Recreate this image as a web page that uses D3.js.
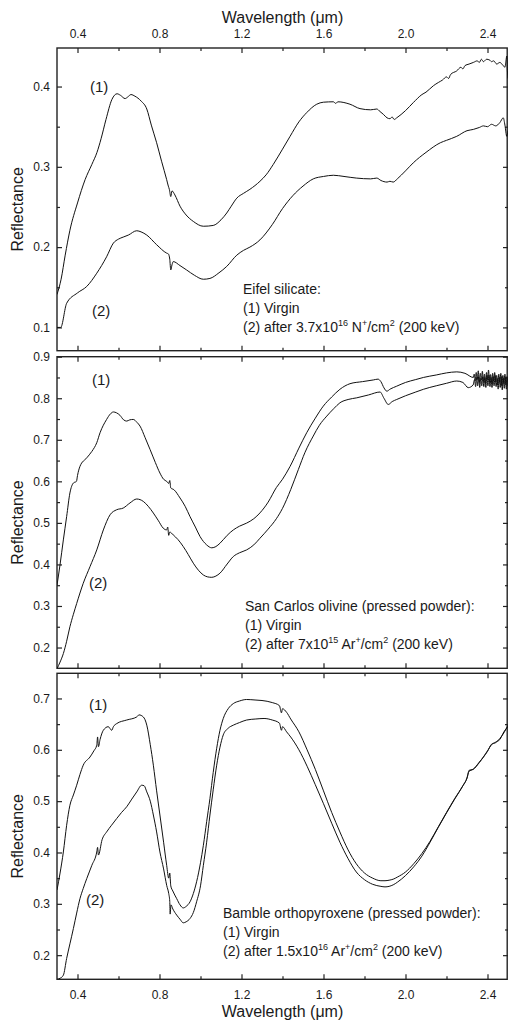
<!DOCTYPE html>
<html>
<head>
<meta charset="utf-8">
<title>Reflectance spectra</title>
<script src="https://d3js.org/d3.v7.min.js"></script>
<style>
  body { margin: 0; background: #fff; }
  svg text { font-family: Arial, "Liberation Sans", sans-serif; fill: #1a1a1a; }
</style>
</head>
<body>
<div id="chart"></div>
<script>
// ---- data: [wavelength (um), reflectance] ----
var xMajor = [0.4, 0.8, 1.2, 1.6, 2.0, 2.4];
var xMinor = [0.6, 1.0, 1.4, 1.8, 2.2];

var eifelMajor = [0.1, 0.2, 0.3, 0.4];
var eifelMinor = [0.15, 0.25, 0.35];
var olivineMajor = [0.2, 0.3, 0.4, 0.5, 0.6, 0.7, 0.8, 0.9];
var olivineMinor = [0.25, 0.35, 0.45, 0.55, 0.65, 0.75, 0.85];
var bambleMajor = [0.2, 0.3, 0.4, 0.5, 0.6, 0.7];
var bambleMinor = [0.25, 0.35, 0.45, 0.55, 0.65];

var eifelVirgin = [[0.30,0.141],[0.32,0.16],[0.34,0.19],[0.363,0.221],[0.40,0.255],[0.437,0.284],[0.47,0.303],
  [0.495,0.318],[0.515,0.335],[0.539,0.359],[0.568,0.384],[0.593,0.391],[0.61,0.389],[0.632,0.385],[0.645,0.387],
  [0.661,0.390],[0.68,0.388],[0.71,0.382],[0.738,0.372],[0.76,0.352],[0.786,0.330],[0.81,0.307],[0.835,0.284],
  [0.843,0.276],[0.848,0.272],[0.855,0.263],[0.861,0.270],[0.875,0.265],[0.9,0.251],[0.93,0.240],[0.965,0.232],
  [1.014,0.226],[1.062,0.227],[1.10,0.234],[1.128,0.2425],[1.15,0.251],[1.177,0.261],[1.21,0.267],[1.241,0.272],
  [1.29,0.282],[1.32,0.29],[1.355,0.303],[1.40,0.322],[1.437,0.338],[1.48,0.356],[1.518,0.3675],[1.567,0.378],
  [1.60,0.3805],[1.648,0.381],[1.66,0.379],[1.67,0.381],[1.729,0.378],[1.778,0.3725],[1.83,0.371],[1.86,0.372],
  [1.875,0.369],[1.892,0.3654],[1.91,0.361],[1.924,0.360],[1.935,0.362],[1.945,0.359],[1.957,0.361],[2.0,0.37],
  [2.038,0.38],[2.08,0.39],[2.1,0.393],[2.136,0.401],[2.16,0.405],[2.18,0.408],[2.2,0.412],[2.21,0.410],
  [2.22,0.415],[2.25,0.4195],[2.27,0.424],[2.28,0.422],[2.29,0.426],[2.31,0.428],[2.331,0.43],[2.35,0.432],
  [2.36,0.430],[2.37,0.434],[2.38,0.431],[2.396,0.434],[2.41,0.433],[2.42,0.431],[2.43,0.432],[2.445,0.428],
  [2.46,0.430],[2.477,0.426],[2.485,0.424],[2.49,0.432],[2.494,0.438],[2.497,0.42],[2.5,0.41]];

var eifelIrradiated = [[0.30,0.1],[0.318,0.1],[0.347,0.13],[0.40,0.143],[0.445,0.151],[0.494,0.1675],[0.542,0.188],
  [0.575,0.205],[0.60,0.210],[0.623,0.2125],[0.648,0.215],[0.689,0.2204],[0.71,0.219],[0.738,0.215],[0.786,0.203],
  [0.835,0.1925],[0.843,0.1916],[0.85,0.185],[0.855,0.1716],[0.861,0.178],[0.867,0.182],[0.90,0.177],[0.932,0.1716],
  [0.97,0.165],[1.014,0.160],[1.046,0.161],[1.09,0.168],[1.128,0.176],[1.177,0.19],[1.21,0.196],[1.241,0.2],
  [1.29,0.209],[1.35,0.228],[1.40,0.248],[1.45,0.264],[1.50,0.276],[1.55,0.285],[1.6,0.288],[1.648,0.2895],
  [1.70,0.288],[1.76,0.286],[1.83,0.285],[1.86,0.286],[1.88,0.283],[1.91,0.281],[1.924,0.282],[1.94,0.281],
  [1.96,0.285],[2.0,0.295],[2.038,0.305],[2.1,0.318],[2.17,0.33],[2.2,0.333],[2.25,0.338],[2.3,0.345],
  [2.331,0.3466],[2.36,0.349],[2.38,0.351],[2.40,0.350],[2.42,0.353],[2.44,0.351],[2.46,0.355],[2.477,0.361],
  [2.485,0.352],[2.494,0.338],[2.5,0.345]];

var olivineVirgin = [[0.30,0.35],[0.315,0.40],[0.331,0.459],[0.347,0.515],[0.363,0.572],[0.38,0.596],[0.395,0.60],
  [0.40,0.614],[0.412,0.636],[0.445,0.6565],[0.47,0.672],[0.494,0.693],[0.51,0.717],[0.542,0.749],[0.56,0.762],
  [0.575,0.767],[0.59,0.765],[0.607,0.759],[0.625,0.748],[0.64,0.745],[0.655,0.748],[0.672,0.749],[0.69,0.742],
  [0.705,0.733],[0.73,0.705],[0.754,0.6766],[0.78,0.645],[0.802,0.62],[0.82,0.605],[0.835,0.60],[0.845,0.595],
  [0.85,0.602],[0.855,0.584],[0.87,0.58],[0.9,0.56],[0.925,0.54],[0.949,0.515],[0.975,0.49],[0.998,0.467],
  [1.03,0.447],[1.055,0.44],[1.075,0.443],[1.095,0.451],[1.13,0.47],[1.16,0.483],[1.19,0.492],[1.225,0.4995],
  [1.26,0.51],[1.29,0.524],[1.33,0.55],[1.37,0.585],[1.40,0.605],[1.437,0.636],[1.48,0.68],[1.518,0.717],
  [1.56,0.752],[1.599,0.781],[1.64,0.803],[1.68,0.8215],[1.729,0.835],[1.79,0.840],[1.843,0.844],[1.866,0.846],
  [1.88,0.84],[1.895,0.825],[1.909,0.817],[1.925,0.822],[1.957,0.829],[2.0,0.838],[2.05,0.845],[2.087,0.85],
  [2.15,0.856],[2.20,0.861],[2.25,0.8635],[2.29,0.86],[2.331,0.85],[2.335,0.858],[2.34,0.842],[2.345,0.862],
  [2.35,0.845],[2.355,0.866],[2.36,0.838],[2.365,0.86],[2.37,0.844],[2.375,0.865],[2.38,0.84],[2.385,0.858],
  [2.39,0.836],[2.395,0.862],[2.40,0.845],[2.405,0.868],[2.41,0.84],[2.415,0.857],[2.42,0.838],[2.425,0.86],
  [2.43,0.842],[2.435,0.862],[2.44,0.84],[2.445,0.855],[2.45,0.832],[2.455,0.858],[2.46,0.838],[2.465,0.86],
  [2.47,0.83],[2.475,0.855],[2.48,0.835],[2.485,0.858],[2.49,0.832],[2.495,0.852],[2.5,0.84]];

var olivineIrradiated = [[0.30,0.149],[0.315,0.165],[0.331,0.1855],[0.347,0.215],[0.363,0.25],[0.38,0.28],
  [0.396,0.306],[0.428,0.3546],[0.461,0.3947],[0.494,0.435],[0.526,0.483],[0.559,0.5196],[0.591,0.5316],
  [0.623,0.5357],[0.656,0.548],[0.689,0.5575],[0.705,0.556],[0.721,0.5517],[0.745,0.54],[0.77,0.5237],
  [0.795,0.505],[0.818,0.4874],[0.835,0.483],[0.84,0.49],[0.845,0.47],[0.85,0.478],[0.867,0.471],[0.89,0.46],
  [0.916,0.443],[0.94,0.424],[0.965,0.403],[0.99,0.386],[1.014,0.3746],[1.035,0.37],[1.055,0.369],[1.075,0.372],
  [1.095,0.379],[1.13,0.401],[1.16,0.419],[1.19,0.428],[1.225,0.435],[1.26,0.447],[1.29,0.463],[1.33,0.485],
  [1.37,0.51],[1.40,0.535],[1.44,0.58],[1.477,0.628],[1.51,0.67],[1.55,0.709],[1.58,0.735],[1.616,0.757],
  [1.65,0.775],[1.68,0.789],[1.72,0.797],[1.762,0.801],[1.82,0.808],[1.876,0.815],[1.895,0.80],[1.916,0.785],
  [1.935,0.792],[1.957,0.797],[2.0,0.806],[2.05,0.815],[2.087,0.8215],[2.15,0.83],[2.2,0.836],[2.25,0.8415],
  [2.28,0.838],[2.306,0.8255],[2.33,0.832],[2.337,0.845],[2.342,0.828],[2.347,0.85],[2.352,0.83],[2.357,0.852],
  [2.362,0.826],[2.367,0.848],[2.372,0.83],[2.377,0.852],[2.382,0.828],[2.387,0.85],[2.392,0.826],[2.397,0.855],
  [2.402,0.83],[2.407,0.856],[2.412,0.828],[2.417,0.85],[2.422,0.826],[2.427,0.852],[2.432,0.83],[2.437,0.855],
  [2.442,0.828],[2.447,0.848],[2.452,0.822],[2.457,0.85],[2.462,0.826],[2.467,0.852],[2.472,0.82],[2.477,0.848],
  [2.482,0.824],[2.487,0.85],[2.492,0.822],[2.497,0.845],[2.5,0.83]];

var bambleVirgin = [[0.30,0.327],[0.315,0.36],[0.331,0.401],[0.347,0.453],[0.363,0.492],[0.38,0.512],[0.396,0.531],
  [0.412,0.552],[0.428,0.57],[0.461,0.586],[0.48,0.598],[0.494,0.609],[0.498,0.625],[0.502,0.606],[0.51,0.62],
  [0.526,0.638],[0.55,0.645],[0.567,0.638],[0.575,0.645],[0.591,0.651],[0.64,0.658],[0.689,0.664],[0.70,0.668],
  [0.721,0.664],[0.738,0.648],[0.755,0.61],[0.77,0.57],[0.786,0.52],[0.802,0.473],[0.82,0.42],[0.835,0.375],
  [0.845,0.35],[0.85,0.36],[0.855,0.335],[0.865,0.325],[0.884,0.31],[0.90,0.298],[0.916,0.292],[0.93,0.295],
  [0.949,0.304],[0.965,0.32],[0.981,0.343],[1.0,0.38],[1.014,0.414],[1.03,0.46],[1.046,0.505],[1.062,0.556],
  [1.079,0.603],[1.095,0.638],[1.111,0.661],[1.135,0.68],[1.16,0.69],[1.19,0.695],[1.225,0.698],[1.266,0.697],
  [1.30,0.696],[1.35,0.692],[1.385,0.686],[1.395,0.672],[1.40,0.68],[1.42,0.673],[1.44,0.66],[1.48,0.635],
  [1.52,0.6],[1.56,0.562],[1.60,0.52],[1.64,0.478],[1.68,0.44],[1.72,0.405],[1.76,0.378],[1.80,0.36],
  [1.84,0.35],[1.88,0.345],[1.90,0.345],[1.92,0.346],[1.94,0.348],[1.96,0.352],[2.0,0.362],[2.04,0.378],
  [2.08,0.398],[2.12,0.422],[2.16,0.45],[2.2,0.478],[2.24,0.505],[2.28,0.53],[2.30,0.545],[2.31,0.56],
  [2.33,0.562],[2.36,0.575],[2.40,0.598],[2.42,0.61],[2.44,0.615],[2.46,0.62],[2.48,0.635],[2.5,0.645]];

var bambleIrradiated = [[0.30,0.153],[0.315,0.155],[0.331,0.161],[0.347,0.1935],[0.363,0.222],[0.38,0.252],
  [0.396,0.282],[0.412,0.31],[0.428,0.33],[0.445,0.349],[0.47,0.375],[0.494,0.401],[0.498,0.41],[0.502,0.395],
  [0.52,0.425],[0.542,0.44],[0.566,0.453],[0.591,0.466],[0.615,0.478],[0.64,0.489],[0.665,0.504],[0.689,0.518],
  [0.713,0.531],[0.725,0.53],[0.738,0.518],[0.755,0.5],[0.77,0.473],[0.786,0.44],[0.802,0.401],[0.82,0.368],
  [0.835,0.336],[0.845,0.32],[0.85,0.305],[0.852,0.28],[0.856,0.298],[0.865,0.29],[0.884,0.278],[0.90,0.27],
  [0.916,0.263],[0.93,0.265],[0.949,0.2715],[0.965,0.283],[0.981,0.304],[1.0,0.335],[1.014,0.375],[1.03,0.42],
  [1.046,0.473],[1.062,0.522],[1.079,0.57],[1.095,0.605],[1.111,0.629],[1.135,0.642],[1.16,0.648],[1.19,0.653],
  [1.225,0.658],[1.27,0.66],[1.31,0.661],[1.35,0.658],[1.385,0.652],[1.395,0.638],[1.40,0.645],[1.42,0.635],
  [1.44,0.625],[1.48,0.6],[1.52,0.568],[1.56,0.532],[1.60,0.495],[1.64,0.457],[1.68,0.42],[1.72,0.388],
  [1.76,0.362],[1.80,0.347],[1.84,0.338],[1.88,0.334],[1.90,0.333],[1.92,0.334],[1.94,0.337],[1.96,0.342],
  [2.0,0.355],[2.04,0.372],[2.08,0.393],[2.12,0.42],[2.16,0.449],[2.2,0.477],[2.24,0.504],[2.28,0.53],
  [2.30,0.545],[2.31,0.558],[2.33,0.562],[2.36,0.576],[2.40,0.597],[2.42,0.611],[2.44,0.614],[2.46,0.622],
  [2.48,0.633],[2.5,0.648]];

// annotation text, segments flagged true are superscripts
var eifelNote = [[["Eifel silicate:", false]], [["(1) Virgin", false]],
  [["(2) after 3.7x10", false], ["16", true], [" N", false], ["+", true], ["/cm", false], ["2", true], [" (200 keV)", false]]];
var olivineNote = [[["San Carlos olivine (pressed powder):", false]], [["(1) Virgin", false]],
  [["(2) after 7x10", false], ["15", true], [" Ar", false], ["+", true], ["/cm", false], ["2", true], [" (200 keV)", false]]];
var bambleNote = [[["Bamble orthopyroxene (pressed powder):", false]], [["(1) Virgin", false]],
  [["(2) after 1.5x10", false], ["16", true], [" Ar", false], ["+", true], ["/cm", false], ["2", true], [" (200 keV)", false]]];

// ---- layout ----
var width = 508, height = 1021;
var left = 57, right = 508;

var panels = [
  {top: 48, bottom: 350.7, domain: [0.071, 0.448], major: eifelMajor, minor: eifelMinor,
   series: [eifelVirgin, eifelIrradiated], tags: [[90, 92], [92, 316]],
   note: eifelNote, noteX: 243, noteY: 294},
  {top: 356.7, bottom: 668.3, domain: [0.15, 0.9], major: olivineMajor, minor: olivineMinor,
   series: [olivineVirgin, olivineIrradiated], tags: [[92, 385], [89, 588]],
   note: olivineNote, noteX: 245, noteY: 611},
  {top: 673.3, bottom: 979.3, domain: [0.153, 0.749], major: bambleMajor, minor: bambleMinor,
   series: [bambleVirgin, bambleIrradiated], tags: [[89, 710], [86, 905]],
   note: bambleNote, noteX: 223, noteY: 918}
];

var svg = d3.select("#chart").append("svg")
    .attr("width", width)
    .attr("height", height);

var x = d3.scaleLinear().domain([0.3, 2.5]).range([left, right]);

function styleAxis(g) {
  g.select(".domain").remove();
  g.selectAll(".tick line").attr("stroke", "#222").attr("stroke-width", 1.2);
  g.selectAll(".tick text").attr("font-size", "12px").attr("fill", "#1a1a1a");
}

panels.forEach(function(p, i) {
  var y = d3.scaleLinear().domain(p.domain).range([p.bottom, p.top]);

  var clipId = "clip" + i;
  svg.append("clipPath").attr("id", clipId)
    .append("rect")
    .attr("x", left).attr("y", p.top)
    .attr("width", right - left).attr("height", p.bottom - p.top);

  // x ticks, top and bottom, pointing inward
  var showTop = (i === 0), showBottom = (i === panels.length - 1);
  svg.append("g").attr("transform", "translate(0," + p.top + ")")
    .call(d3.axisTop(x).tickValues(xMajor).tickSize(-5).tickPadding(10)
      .tickFormat(showTop ? d3.format(".1f") : ""))
    .call(styleAxis);
  svg.append("g").attr("transform", "translate(0," + p.top + ")")
    .call(d3.axisTop(x).tickValues(xMinor).tickSize(-3).tickFormat(""))
    .call(styleAxis);
  svg.append("g").attr("transform", "translate(0," + p.bottom + ")")
    .call(d3.axisBottom(x).tickValues(xMajor).tickSize(-5).tickPadding(11)
      .tickFormat(showBottom ? d3.format(".1f") : ""))
    .call(styleAxis);
  svg.append("g").attr("transform", "translate(0," + p.bottom + ")")
    .call(d3.axisBottom(x).tickValues(xMinor).tickSize(-3).tickFormat(""))
    .call(styleAxis);

  // y ticks, left with labels, right mirrored
  svg.append("g").attr("transform", "translate(" + left + ",0)")
    .call(d3.axisLeft(y).tickValues(p.major).tickSize(-5).tickPadding(7).tickFormat(d3.format(".1f")))
    .call(styleAxis);
  svg.append("g").attr("transform", "translate(" + left + ",0)")
    .call(d3.axisLeft(y).tickValues(p.minor).tickSize(-3).tickFormat(""))
    .call(styleAxis);
  svg.append("g").attr("transform", "translate(" + right + ",0)")
    .call(d3.axisRight(y).tickValues(p.major).tickSize(-5).tickFormat(""))
    .call(styleAxis);
  svg.append("g").attr("transform", "translate(" + right + ",0)")
    .call(d3.axisRight(y).tickValues(p.minor).tickSize(-3).tickFormat(""))
    .call(styleAxis);

  // frame
  svg.append("rect")
    .attr("x", left).attr("y", p.top)
    .attr("width", right - left - 0.8).attr("height", p.bottom - p.top)
    .attr("fill", "none").attr("stroke", "#222").attr("stroke-width", 1.4);

  // spectra
  var line = d3.line()
    .x(function(d) { return x(d[0]); })
    .y(function(d) { return y(d[1]); })
    .curve(d3.curveMonotoneX);

  svg.append("g").attr("clip-path", "url(#" + clipId + ")")
    .selectAll("path")
    .data(p.series)
    .enter().append("path")
    .attr("d", line)
    .attr("fill", "none")
    .attr("stroke", "#111")
    .attr("stroke-width", 1)
    .attr("stroke-linejoin", "round");

  // (1) / (2) tags
  p.tags.forEach(function(t, k) {
    svg.append("text").attr("x", t[0]).attr("y", t[1])
      .attr("font-size", "15px").text("(" + (k + 1) + ")");
  });

  // sample annotation
  p.note.forEach(function(parts, k) {
    var txt = svg.append("text")
      .attr("x", p.noteX).attr("y", p.noteY + k * 19)
      .attr("font-size", "14px");
    var raised = false;
    parts.forEach(function(seg) {
      var ts = txt.append("tspan").text(seg[0]);
      if (seg[1] && !raised) { ts.attr("dy", -6).attr("font-size", "9px"); raised = true; }
      else if (seg[1]) { ts.attr("font-size", "9px"); }
      else if (raised) { ts.attr("dy", 6); raised = false; }
    });
  });

  // y title
  svg.append("text")
    .attr("transform", "translate(23," + ((p.top + p.bottom) / 2 + 10) + ") rotate(-90)")
    .attr("text-anchor", "middle")
    .attr("font-size", "16px")
    .text("Reflectance");
});

// x titles
svg.append("text").attr("x", (left + right) / 2).attr("y", 23)
  .attr("text-anchor", "middle").attr("font-size", "16px").text("Wavelength (\u03bcm)");
svg.append("text").attr("x", (left + right) / 2).attr("y", 1017)
  .attr("text-anchor", "middle").attr("font-size", "16px").text("Wavelength (\u03bcm)");
</script>
</body>
</html>
